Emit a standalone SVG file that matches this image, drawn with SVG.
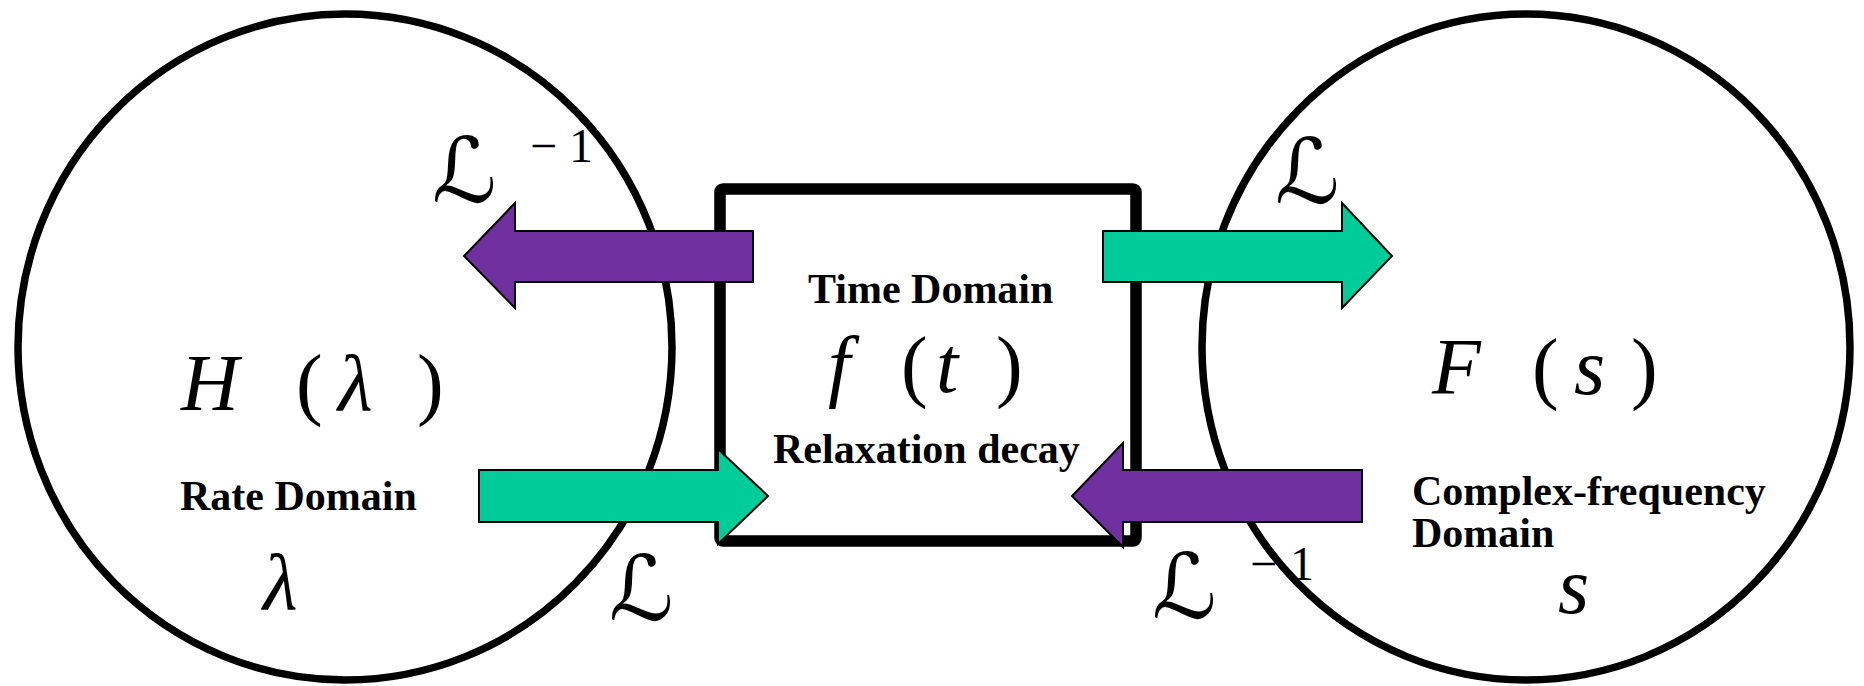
<svg xmlns="http://www.w3.org/2000/svg" width="1864" height="686" viewBox="0 0 1864 686">
<style>
.dom{fill:none;stroke:#000;stroke-width:7.5}
.box{fill:#fff;stroke:#000;stroke-width:11.5}
.lbl{font-family:"Liberation Serif","Times New Roman",serif;font-weight:bold;font-size:42px;fill:#000}
.math{font-family:"Liberation Serif","Times New Roman",serif;font-style:italic;font-size:80px;fill:#000}
.par{font-family:"Liberation Serif","Times New Roman",serif;font-size:80px;fill:#000}
.sup{font-family:"Liberation Serif","Times New Roman",serif;font-size:48px;fill:#000}
.lap{font-family:"DejaVu Serif","DejaVu Sans",serif;font-style:italic;font-size:90px;fill:#000}
.inv{fill:#7030A0;stroke:#000;stroke-width:2}
.fwd{fill:#00CC99;stroke:#000;stroke-width:2}
</style>
<rect width="1864" height="686" fill="#fff"/>
<g id="rate-domain">
<ellipse class="dom" cx="345" cy="347" rx="327" ry="333"/>
<text class="math" x="181" y="410">H</text>
<text class="par" x="296" y="410">(</text>
<text class="math" x="338" y="410">λ</text>
<text class="par" x="417" y="410">)</text>
<text class="lbl" x="180" y="510">Rate Domain</text>
<text class="math" x="263" y="609">λ</text>
</g>
<g id="freq-domain">
<ellipse class="dom" cx="1526" cy="347" rx="324" ry="333"/>
<text class="math" x="1432" y="394">F</text>
<text class="par" x="1532" y="394">(</text>
<text class="math" x="1574" y="394">s</text>
<text class="par" x="1631" y="394">)</text>
<text class="lbl" x="1412" y="505">Complex-frequency</text>
<text class="lbl" x="1412" y="547">Domain</text>
<text class="math" x="1558" y="613">s</text>
</g>
<g id="time-domain">
<rect class="box" x="720" y="189" width="416" height="352" rx="3"/>
<text class="lbl" x="808" y="303">Time Domain</text>
<text class="math" x="828" y="392">f</text>
<text class="par" x="901" y="392">(</text>
<text class="math" x="936" y="392">t</text>
<text class="par" x="996" y="392">)</text>
<text class="lbl" x="773" y="463">Relaxation decay</text>
</g>
<g id="connectors">
<polygon class="inv" points="753,231 515,231 515,203 464,256 515,308 515,282 753,282"/>
<polygon class="fwd" points="1103,231 1342,231 1342,203 1392,256 1342,308 1342,282 1103,282"/>
<polygon class="fwd" points="479,470 718,470 718,449 768,496 718,544 718,522 479,522"/>
<polygon class="inv" points="1362,470 1123,470 1123,443 1072,496 1123,547 1123,522 1362,522"/>
<text class="lap" x="432" y="202">ℒ</text>
<text class="sup" x="530" y="162">−</text>
<text class="sup" x="569" y="162">1</text>
<text class="lap" x="1275" y="203">ℒ</text>
<text class="lap" x="609" y="620">ℒ</text>
<text class="lap" x="1152" y="618">ℒ</text>
<text class="sup" x="1250" y="580">−</text>
<text class="sup" x="1290" y="580">1</text>
</g>
</svg>
